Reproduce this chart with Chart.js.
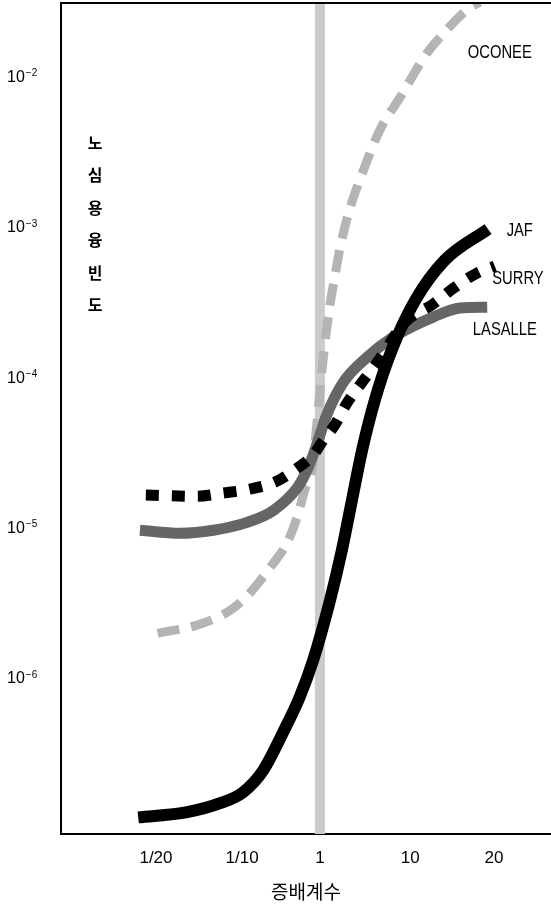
<!DOCTYPE html>
<html lang="ko">
<head>
<meta charset="UTF-8">
<title>노심용융빈도</title>
<script src="https://cdn.jsdelivr.net/npm/chart.js"></script>
<style>
  html, body { margin: 0; padding: 0; background: #fff; }
  canvas { display: block; }
</style>
</head>
<body>
<canvas id="chart" width="551" height="906"></canvas>
<script>
// 증배계수 categories and where they sit on the x axis
const xLabels = ['1/20', '1/10', '1', '10', '20'];
const xTicks = [0, 1.02, 1.94, 3.01, 4.0];
const yTicks = [1e-2, 1e-3, 1e-4, 1e-5, 1e-6];

// series (x in category units, y = frequency)
const jafX = [-0.21, 0.37, 0.76, 1.03, 1.27, 1.50, 1.70, 1.86, 2.06, 2.20, 2.32, 2.44, 2.59, 2.79, 3.07, 3.42, 3.93];
const jafY = [1.20e-7, 1.30e-7, 1.49e-7, 1.76e-7, 2.47e-7, 4.36e-7, 7.55e-7, 1.33e-6, 3.34e-6, 7.18e-6, 1.55e-5, 3.33e-5, 7.15e-5, 1.54e-4, 3.31e-4, 6.11e-4, 9.82e-4];

const surryX = [-0.12, 0.49, 0.79, 1.11, 1.41, 1.67, 1.86, 1.98, 2.10, 2.26, 2.44, 2.62, 2.95, 3.28, 3.52, 3.80, 4.01];
const surryY = [1.67e-5, 1.64e-5, 1.72e-5, 1.83e-5, 2.04e-5, 2.52e-5, 3.08e-5, 3.87e-5, 4.73e-5, 6.83e-5, 9.42e-5, 1.28e-4, 2.36e-4, 3.11e-4, 3.97e-4, 5.00e-4, 5.57e-4];

const lasalleX = [-0.19, 0.28, 0.68, 1.08, 1.39, 1.67, 1.76, 1.86, 1.94, 2.02, 2.21, 2.50, 2.81, 3.28, 3.60, 3.92];
const lasalleY = [9.75e-6, 9.31e-6, 9.75e-6, 1.10e-5, 1.32e-5, 1.86e-5, 2.27e-5, 3.08e-5, 4.18e-5, 5.68e-5, 9.27e-5, 1.38e-4, 1.88e-4, 2.55e-4, 2.93e-4, 2.97e-4];

const oconeeX = [0.02, 0.52, 0.88, 1.11, 1.39, 1.55, 1.67, 1.76, 1.85, 1.88, 1.93, 1.99, 2.05, 2.12, 2.18, 2.30, 2.47, 2.65, 2.89, 3.21, 3.44, 3.68, 3.83];
const oconeeY = [2.01e-6, 2.31e-6, 2.86e-6, 3.72e-6, 5.89e-6, 8.00e-6, 1.19e-5, 1.80e-5, 2.56e-5, 3.59e-5, 7.15e-5, 1.54e-4, 2.84e-4, 4.85e-4, 7.45e-4, 1.37e-3, 2.54e-3, 4.48e-3, 7.41e-3, 1.46e-2, 2.07e-2, 2.81e-2, 3.18e-2];

const yMin = 9.3e-8;
const yMax = 3.13e-2;

const pts = (xs, ys) => xs.map((x, i) => ({ x: x, y: ys[i] }));

const sans = '"Liberation Sans", Arial, sans-serif';
const korean = '"Noto Sans CJK KR", sans-serif';

// series names next to the curve ends (data coords)
const names = [
    { text: 'OCONEE', x: 3.69, y: 1.46e-2 },
    { text: 'JAF', x: 4.15, y: 9.53e-4 },
    { text: 'SURRY', x: 3.98, y: 4.56e-4 },
    { text: 'LASALLE', x: 3.75, y: 2.09e-4 }
];

const decor = {
    id: 'decor',
    afterDraw(chart) {
        const { ctx, chartArea, scales } = chart;
        const xs = scales.x, ys = scales.y;
        ctx.save();

        // top frame line
        ctx.strokeStyle = '#000';
        ctx.lineWidth = 2;
        ctx.beginPath();
        ctx.moveTo(chartArea.left - 1, chartArea.top);
        ctx.lineTo(chartArea.right, chartArea.top);
        ctx.stroke();

        // y tick labels 10^-n
        ctx.fillStyle = '#000';
        ctx.textBaseline = 'middle';
        ctx.textAlign = 'left';
        yTicks.forEach(v => {
            const py = ys.getPixelForValue(v);
            const exp = Math.round(Math.log10(v));
            ctx.font = '16px ' + sans;
            ctx.fillText('10', 7, py);
            const w = ctx.measureText('10').width;
            ctx.font = '10px ' + sans;
            ctx.fillText('\u2212' + Math.abs(exp), 7 + w + 1, py - 4);
        });

        // vertical y title inside the plot
        ctx.font = 'bold 16px ' + korean;
        ctx.textAlign = 'center';
        const title = '노심용융빈도';
        for (let i = 0; i < title.length; i++) {
            ctx.fillText(title[i], chartArea.left + 34, chartArea.top + 140 + i * 32.4);
        }

        // series names, squeezed like a condensed face
        ctx.font = '18px ' + sans;
        ctx.textAlign = 'left';
        names.forEach(n => {
            ctx.save();
            ctx.translate(xs.getPixelForValue(n.x), ys.getPixelForValue(n.y));
            ctx.scale(0.82, 1);
            ctx.fillText(n.text, 0, 0);
            ctx.restore();
        });
        ctx.restore();
    }
};

new Chart(document.getElementById('chart'), {
    type: 'line',
    data: {
        datasets: [
            {
                label: 'band',
                data: [{ x: xTicks[2], y: yMin }, { x: xTicks[2], y: yMax }],
                borderColor: '#cbcbcb',
                borderWidth: 10,
                order: 5
            },
            {
                label: 'OCONEE',
                data: pts(oconeeX, oconeeY),
                borderColor: '#b4b4b4',
                borderWidth: 9,
                borderDash: [22, 12],
                cubicInterpolationMode: 'monotone',
                order: 4
            },
            {
                label: 'LASALLE',
                data: pts(lasalleX, lasalleY),
                borderColor: '#666',
                borderWidth: 11,
                cubicInterpolationMode: 'monotone',
                order: 3
            },
            {
                label: 'SURRY',
                data: pts(surryX, surryY),
                borderColor: '#000',
                borderWidth: 11,
                borderDash: [13, 13],
                cubicInterpolationMode: 'monotone',
                order: 2
            },
            {
                label: 'JAF',
                data: pts(jafX, jafY),
                borderColor: '#000',
                borderWidth: 12,
                cubicInterpolationMode: 'monotone',
                order: 1
            }
        ]
    },
    options: {
        responsive: false,
        animation: false,
        layout: { padding: { top: 3, right: 0, bottom: 3, left: 0 } },
        elements: {
            point: { radius: 0, hoverRadius: 0 },
            line: { borderCapStyle: 'butt', fill: false }
        },
        datasets: { line: { clip: 0 } },
        plugins: {
            legend: { display: false },
            tooltip: { enabled: false }
        },
        scales: {
            x: {
                type: 'linear',
                min: -1.124,
                max: 4.675,
                afterFit: s => { s.height = 69; },
                afterBuildTicks: s => { s.ticks = xTicks.map(v => ({ value: v })); },
                grid: { display: false, drawTicks: false },
                border: { display: true, color: '#000', width: 2 },
                ticks: {
                    autoSkip: false,
                    maxRotation: 0,
                    padding: 14,
                    color: '#000',
                    font: { family: sans, size: 17 },
                    callback: (v, i) => xLabels[i]
                },
                title: {
                    display: true,
                    text: '증배계수',
                    color: '#000',
                    padding: 0,
                    font: { family: korean, size: 19 }
                }
            },
            y: {
                type: 'logarithmic',
                min: yMin,
                max: yMax,
                afterFit: s => { s.width = 61; },
                grid: { display: false, drawTicks: false },
                border: { display: true, color: '#000', width: 2 },
                ticks: { display: false }
            }
        }
    },
    plugins: [decor]
});
</script>
</body>
</html>
